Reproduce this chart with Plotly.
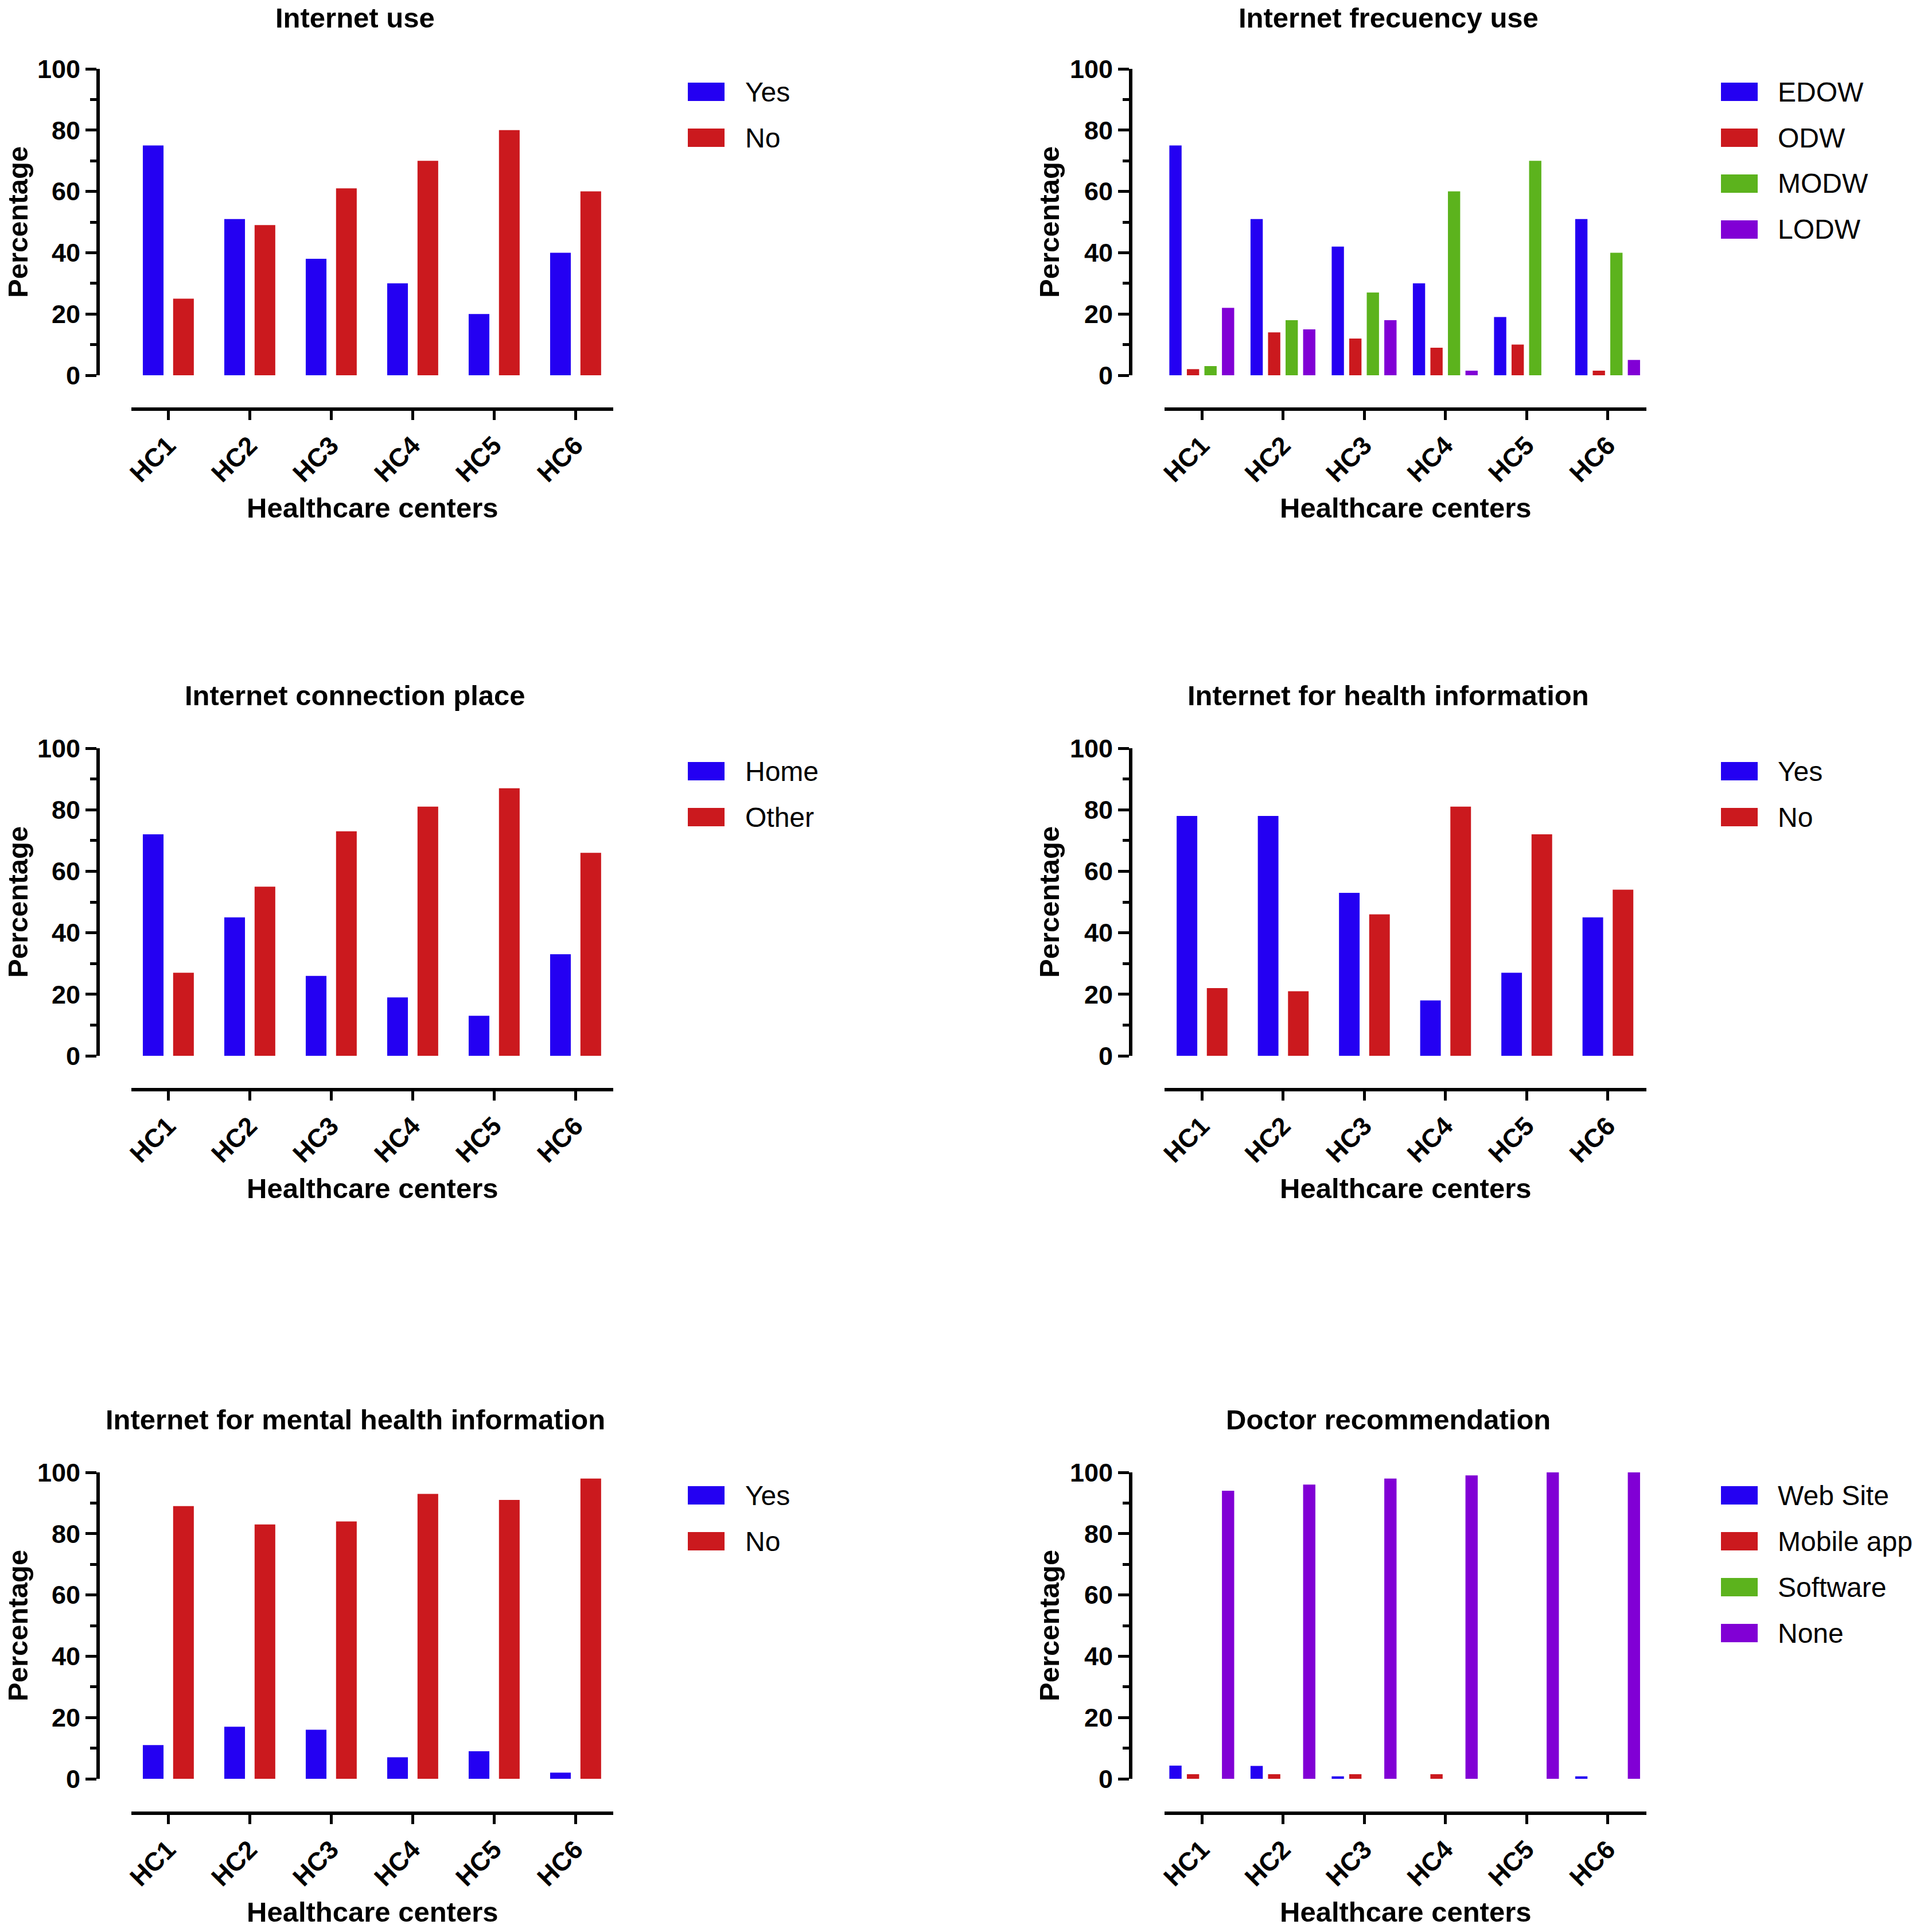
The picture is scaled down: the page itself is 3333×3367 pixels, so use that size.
import plotly.graph_objects as go

# healthcare centers on the x axis
centers = ["HC1", "HC2", "HC3", "HC4", "HC5", "HC6"]

# Internet use
use_yes = [75, 51, 38, 30, 20, 40]
use_no = [25, 49, 61, 70, 80, 60]

# Internet frecuency use
freq_edow = [75, 51, 42, 30, 19, 51]
freq_odw = [2, 14, 12, 9, 10, 1.5]
freq_modw = [3, 18, 27, 60, 70, 40]
freq_lodw = [22, 15, 18, 1.5, 0, 5]

# Internet connection place
place_home = [72, 45, 26, 19, 13, 33]
place_other = [27, 55, 73, 81, 87, 66]

# Internet for health information
health_yes = [78, 78, 53, 18, 27, 45]
health_no = [22, 21, 46, 81, 72, 54]

# Internet for mental health information
mental_yes = [11, 17, 16, 7, 9, 2]
mental_no = [89, 83, 84, 93, 91, 98]

# Doctor recommendation
doc_web = [4.3, 4.2, 0.8, 0, 0, 0.8]
doc_mobile = [1.5, 1.5, 1.5, 1.5, 0, 0]
doc_software = [0, 0, 0, 0, 0, 0]
doc_none = [94, 96, 98, 99, 100, 100]

BLUE = "#2400F2"
RED = "#CB191E"
GREEN = "#5CB31D"
PURPLE = "#8100D5"

panels = [
    ("Internet use", ["Yes", "No"], [use_yes, use_no], [BLUE, RED]),
    ("Internet frecuency use", ["EDOW", "ODW", "MODW", "LODW"],
     [freq_edow, freq_odw, freq_modw, freq_lodw], [BLUE, RED, GREEN, PURPLE]),
    ("Internet connection place", ["Home", "Other"], [place_home, place_other], [BLUE, RED]),
    ("Internet for health information", ["Yes", "No"], [health_yes, health_no], [BLUE, RED]),
    ("Internet for mental health information", ["Yes", "No"], [mental_yes, mental_no], [BLUE, RED]),
    ("Doctor recommendation", ["Web Site", "Mobile app", "Software", "None"],
     [doc_web, doc_mobile, doc_software, doc_none], [BLUE, RED, GREEN, PURPLE]),
]

W, H = 3333, 3367
FONT = "Liberation Sans, Arial, sans-serif"

# pixel geometry of the 2 columns and 3 rows
cols = [
    dict(yline=171, x0=229, x1=1069, hc1=293, step=142, title_x=619, ytitle_x=31,
         leg_sq=(1199, 1263), leg_txt=1297),
    dict(yline=1971, x0=2030, x1=2870, hc1=2095, step=141.5, title_x=2420, ytitle_x=1829,
         leg_sq=(3000, 3064), leg_txt=3097),
]
rows = [
    dict(y100=120, y0=654, xline=713, title_y=31),
    dict(y100=1304, y0=1840, xline=1899, title_y=1212),
    dict(y100=2566, y0=3100, xline=3160, title_y=2474),
]


def px_x(v):
    return v / W


def px_y(v):
    return 1 - v / H


fig = go.Figure()
annotations = []
shapes = []

for i, (title, names, series, colors) in enumerate(panels):
    c = cols[i % 2]
    r = rows[i // 2]
    n = i + 1
    xa = "x" if n == 1 else "x%d" % n
    ya = "y" if n == 1 else "y%d" % n

    nser = len(series)
    if nser == 2:
        width = 0.254
        offsets = [-0.31, 0.062]
    else:
        width = 0.151
        offsets = [-0.40, -0.184, 0.032, 0.248]

    for name, vals, col, off in zip(names, series, colors, offsets):
        fig.add_trace(go.Bar(
            x=centers, y=vals, name=name, marker=dict(color=col, line=dict(width=0)),
            width=width, offset=off, xaxis=xa, yaxis=ya, showlegend=False,
        ))

    xr = [(c["x0"] - c["hc1"]) / c["step"], (c["x1"] - c["hc1"]) / c["step"]]
    fig.layout["xaxis" if n == 1 else "xaxis%d" % n] = dict(
        domain=[px_x(c["x0"]), px_x(c["x1"])], anchor="free", position=px_y(r["xline"]),
        range=xr, type="category", showline=True, linewidth=6, linecolor="black",
        ticks="outside", ticklen=16, tickwidth=5, tickcolor="black",
        tickangle=-45, tickfont=dict(family=FONT, size=45, color="black", weight="bold"),
        showgrid=False, zeroline=False, fixedrange=True, automargin=False,
    )
    fig.layout["yaxis" if n == 1 else "yaxis%d" % n] = dict(
        domain=[px_y(r["y0"]), px_y(r["y100"])], anchor="free", position=px_x(c["yline"]),
        range=[0, 100], dtick=20, showline=True, linewidth=6, linecolor="black",
        ticks="outside", ticklen=19, tickwidth=5, tickcolor="black",
        minor=dict(dtick=10, ticks="outside", ticklen=11, tickwidth=5, tickcolor="black"),
        tickfont=dict(family=FONT, size=45, color="black", weight="bold"),
        showgrid=False, zeroline=False, fixedrange=True, automargin=False,
    )

    # panel title
    annotations.append(dict(
        text=title, x=px_x(c["title_x"]), y=px_y(r["title_y"]), xref="paper", yref="paper",
        xanchor="center", yanchor="middle", showarrow=False,
        font=dict(family=FONT, size=49, color="black", weight="bold"),
    ))
    # y axis title
    annotations.append(dict(
        text="Percentage", x=px_x(c["ytitle_x"]), y=px_y((r["y0"] + r["y100"]) / 2),
        xref="paper", yref="paper", xanchor="center", yanchor="middle", textangle=-90,
        showarrow=False, font=dict(family=FONT, size=49, color="black", weight="bold"),
    ))
    # x axis title
    annotations.append(dict(
        text="Healthcare centers", x=px_x((c["x0"] + c["x1"]) / 2), y=px_y(r["xline"] + 172),
        xref="paper", yref="paper", xanchor="center", yanchor="middle", showarrow=False,
        font=dict(family=FONT, size=49, color="black", weight="bold"),
    ))

    # legend drawn by hand (big swatches like the original)
    for k, (name, col) in enumerate(zip(names, colors)):
        top = r["y100"] + 24 + 80 * k
        shapes.append(dict(
            type="rect", xref="paper", yref="paper",
            x0=px_x(c["leg_sq"][0]), x1=px_x(c["leg_sq"][1]),
            y0=px_y(top + 32), y1=px_y(top), fillcolor=col, line=dict(width=0),
        ))
        annotations.append(dict(
            text=name, x=px_x(c["leg_txt"]), y=px_y(top + 16), xref="paper", yref="paper",
            xanchor="left", yanchor="middle", showarrow=False,
            font=dict(family=FONT, size=48, color="black"),
        ))

fig.update_layout(
    width=W, height=H,
    margin=dict(l=0, r=0, t=0, b=0, pad=0, autoexpand=False),
    paper_bgcolor="white", plot_bgcolor="white",
    barmode="overlay", showlegend=False,
    annotations=annotations, shapes=shapes,
)

fig.write_html("out.html", config={"displayModeBar": False},
               post_script="document.body.style.margin='0';")
